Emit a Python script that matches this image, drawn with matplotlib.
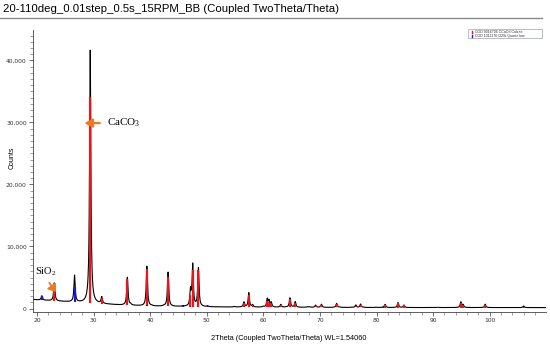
import numpy as np
import matplotlib
matplotlib.use("Agg")
import matplotlib.pyplot as plt
from matplotlib.lines import Line2D
from matplotlib.patches import Rectangle
from matplotlib.ticker import MultipleLocator, FuncFormatter

# background of the measured pattern (2theta, counts)
bg_x = [19.3, 20, 25, 30, 35, 40, 50, 60, 80, 110]
bg_y = [1450, 1400, 1100, 800, 550, 380, 260, 210, 160, 150]

# calcite (CaCO3) reflections: position, measured peak height above background, stick height
calcite_pos = [23.06, 29.41, 31.44, 35.97, 39.42, 43.17, 47.13, 47.52, 48.53,
               56.58, 57.43, 58.10, 60.69, 61.00, 61.38, 63.08, 64.70, 65.64,
               69.24, 70.27, 72.95, 76.33, 77.18, 81.51, 83.80, 84.85,
               94.90, 95.30, 99.20, 106.0]
calcite_peak = [2900, 40800, 1050, 4500, 6300, 5500, 2500, 6700, 6200,
                800, 2300, 350, 1300, 1000, 750, 450, 1500, 900,
                350, 500, 650, 400, 550, 500, 800, 400,
                900, 450, 550, 250]
calcite_stick = [2500, 33200, 900, 4300, 6000, 4700, 1900, 6000, 6000,
                 600, 1900, 250, 1000, 800, 600, 350, 1300, 700,
                 250, 400, 500, 300, 450, 400, 700, 350,
                 700, 350, 450, 100]

# quartz (SiO2) reflections
quartz_pos = [20.86, 26.64, 36.54, 39.46, 40.29, 42.45, 45.79, 50.14, 54.87,
              59.96, 64.04, 67.74, 68.14, 73.47, 75.66, 77.67, 79.88, 81.17, 90.83]
quartz_peak = [700, 4300, 150, 120, 80, 100, 80, 150, 80,
               100, 60, 80, 100, 50, 50, 40, 50, 50, 40]
quartz_stick = [600, 2500, 120, 100, 60, 80, 60, 120, 60,
                80, 50, 60, 80, 40, 40, 30, 40, 40, 30]

legend_labels = ["COD 9016706 CCaO3 Calcite", "COD 1011176 O2Si Quartz low"]

fwhm = 0.26
tt = np.arange(19.3, 110.0, 0.01)
background = np.interp(tt, bg_x, bg_y)

def lorentz(x, x0, h, w):
    return h / (1 + ((x - x0) / (w / 2)) ** 2)

counts = background.copy()
for p, h in zip(calcite_pos + quartz_pos, calcite_peak + quartz_peak):
    counts += lorentz(tt, p, h, fwhm)

fig = plt.figure(figsize=(5.5, 3.47), dpi=100)
ax = fig.add_axes([33 / 550, 1 - 312 / 347, 513 / 550, 282 / 347])

ax.plot(tt, counts, color='black', lw=0.8, zorder=2)

cal_base = np.interp(calcite_pos, bg_x, bg_y)
ax.vlines(calcite_pos, cal_base, cal_base + np.array(calcite_stick),
          color='#e8161c', lw=1.6, zorder=3)
qz_base = np.interp(quartz_pos, bg_x, bg_y)
ax.vlines(quartz_pos, qz_base, qz_base + np.array(quartz_stick),
          color='#1a1ad0', lw=1.6, zorder=3)

ax.set_xlim(19.3, 109.95)
ax.set_ylim(-560, 44900)
for s in ['top', 'right']:
    ax.spines[s].set_visible(False)
for s in ['left', 'bottom']:
    ax.spines[s].set_linewidth(0.6)
    ax.spines[s].set_color('#444444')

ax.xaxis.set_major_locator(MultipleLocator(10))
ax.xaxis.set_minor_locator(MultipleLocator(2))
ax.yaxis.set_major_locator(MultipleLocator(10000))
ax.yaxis.set_minor_locator(MultipleLocator(1000))
ax.yaxis.set_major_formatter(FuncFormatter(lambda v, p: f"{int(v):,}"))
ax.tick_params(which='major', length=3, width=0.5, labelsize=4.3, pad=1.5, colors='#333333')
ax.tick_params(which='minor', length=2, width=0.4, colors='#555555')

# title and rule
fig.text(3 / 550, 1 - 9 / 347, "20-110deg_0.01step_0.5s_15RPM_BB (Coupled TwoTheta/Theta)",
         fontsize=8.2, family='Liberation Sans', va='center', ha='left')
fig.add_artist(Line2D([0, 0.985], [1 - 18 / 347, 1 - 18 / 347], color='#8a8a8a', lw=1.0))

fig.text(12 / 550, 1 - 158 / 347, "Counts", rotation=90, fontsize=5,
         family='Liberation Sans', ha='center', va='center')
fig.text(289 / 550, 1 - 338 / 347, "2Theta (Coupled TwoTheta/Theta) WL=1.54060", fontsize=5.3,
         family='Liberation Sans', ha='center', va='center')

# annotations
orange = '#f0781e'
ax.annotate("", xy=(27.9, 29900), xytext=(31.6, 29900),
            arrowprops=dict(arrowstyle='-|>,head_length=0.45,head_width=0.25', color=orange, lw=1.6))
ax.text(32.3, 29900, r"CaCO$_\mathregular{3}$", fontsize=8, family='Liberation Serif', va='center')
ax.annotate("", xy=(23.6, 2300), xytext=(21.9, 4500),
            arrowprops=dict(arrowstyle='-|>,head_length=0.4,head_width=0.3', color=orange, lw=1.3))
ax.text(19.6, 5900, r"SiO$_\mathregular{2}$", fontsize=7.5, family='Liberation Serif', va='center')

# legend box
fig.add_artist(Rectangle((468 / 550, 1 - 38.3 / 347), 74 / 550, 9.3 / 347, fill=False,
                         lw=0.4, edgecolor='#8888aa'))
for i, (lab, col) in enumerate(zip(legend_labels, ['#e8161c', '#1a1ad0'])):
    yc = 1 - (31.8 + 4 * i) / 347
    fig.add_artist(Line2D([471.5 / 550, 471.5 / 550], [yc - 1.3 / 347, yc + 1.3 / 347], color=col, lw=1.0))
    fig.text(475 / 550, yc, lab, fontsize=2.6, family='Liberation Sans', va='center', color='#333333')

fig.savefig("out.png", dpi=100)
